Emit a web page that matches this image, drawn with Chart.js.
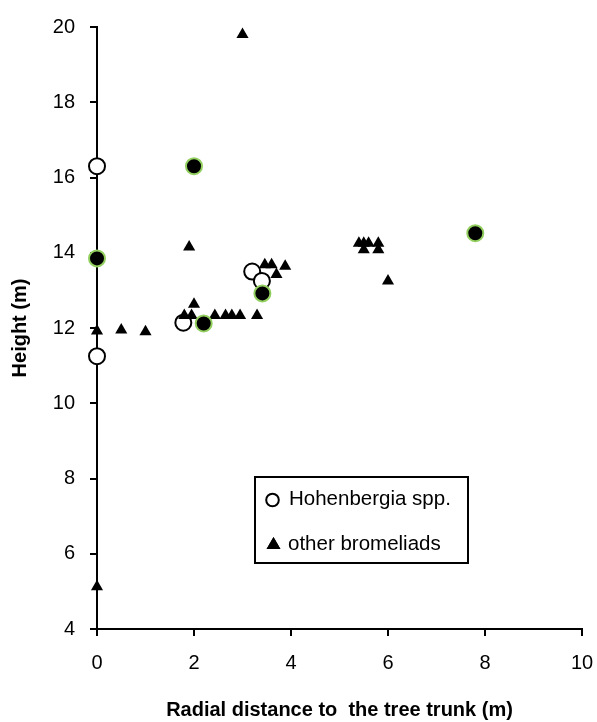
<!DOCTYPE html>
<html>
<head>
<meta charset="utf-8">
<script src="https://cdn.jsdelivr.net/npm/chart.js@4.4.1/dist/chart.umd.min.js"></script>
<style>
  html, body { margin: 0; padding: 0; background: #ffffff; }
  #wrap { width: 597px; height: 722px; position: relative; }
</style>
</head>
<body>
<div id="wrap"><canvas id="c" width="597" height="722"></canvas></div>
<script>
// ---- data ----
const hohenOpenX = [0, 0, 1.78, 3.2, 3.4];
const hohenOpenY = [16.3, 11.25, 12.14, 13.5, 13.25];

const hohenFilledX = [0, 2.0, 2.2, 3.41, 7.8];
const hohenFilledY = [13.85, 16.3, 12.12, 12.92, 14.52];

const otherX = [0, 0.5, 1.0, 0, 3.0, 1.9, 2.0, 1.8, 1.95, 2.43, 2.65, 2.78, 2.95, 3.3, 3.46, 3.6, 3.7, 3.88, 5.4, 5.5, 5.6, 5.8, 5.5, 5.8, 6.0];
const otherY = [11.92, 11.95, 11.9, 5.12, 19.8, 14.15, 12.63, 12.33, 12.33, 12.33, 12.33, 12.33, 12.33, 12.33, 13.68, 13.68, 13.42, 13.64, 14.25, 14.25, 14.25, 14.25, 14.08, 14.08, 13.25];

const xTicks = [0, 2, 4, 6, 8, 10];
const yTicks = [4, 6, 8, 10, 12, 14, 16, 18, 20];

const seriesLabels = ['Hohenbergia spp.', 'other bromeliads'];
const xTitle = 'Radial distance to  the tree trunk (m)';
const yTitle = 'Height (m)';

const toPts = (xs, ys) => xs.map((x, i) => ({ x: x, y: ys[i] }));

const FONT = "'Liberation Sans', Arial, sans-serif";

const legendBox = {
  id: 'legendBox',
  afterDraw(chart) {
    const ctx = chart.ctx;
    const L = 255, T = 477, W = 213, H = 86;
    ctx.save();
    ctx.lineWidth = 2;
    ctx.strokeStyle = '#000';
    ctx.strokeRect(L, T, W, H);
    // circle marker
    ctx.fillStyle = '#fff';
    ctx.beginPath(); ctx.arc(272.5, 500, 6.3, 0, Math.PI * 2); ctx.fill();
    ctx.lineWidth = 2; ctx.strokeStyle = '#000'; ctx.stroke();
    // triangle marker
    ctx.fillStyle = '#000';
    Chart.helpers.drawPoint(ctx, { pointStyle: 'triangle', radius: 8, borderWidth: 0 }, 273.5, 545);
    ctx.fill();
    ctx.fillStyle = '#000';
    ctx.font = "20.5px " + FONT;
    ctx.textBaseline = 'alphabetic';
    ctx.textAlign = 'left';
    ctx.fillText(seriesLabels[0], 289, 505);
    ctx.fillText(seriesLabels[1], 288, 550);
    ctx.restore();
  }
};

new Chart(document.getElementById('c'), {
  type: 'scatter',
  data: {
    datasets: [
      {
        label: 'Hohenbergia spp. (filled)',
        data: toPts(hohenFilledX, hohenFilledY),
        pointStyle: 'circle',
        pointRadius: 8,
        pointBackgroundColor: '#000000',
        pointBorderColor: '#92cf5f',
        pointBorderWidth: 2
      },
      {
        label: seriesLabels[1],
        data: toPts(otherX, otherY),
        pointStyle: 'triangle',
        pointRadius: 7,
        pointBackgroundColor: '#000000',
        pointBorderColor: '#000000',
        pointBorderWidth: 0
      },
      {
        label: seriesLabels[0],
        data: toPts(hohenOpenX, hohenOpenY),
        pointStyle: 'circle',
        pointRadius: 8,
        pointBackgroundColor: '#ffffff',
        pointBorderColor: '#000000',
        pointBorderWidth: 2
      }
    ]
  },
  options: {
    responsive: false,
    animation: false,
    devicePixelRatio: 1,
    datasets: { scatter: { clip: false } },
    layout: { padding: { top: 25, right: 15, left: 0, bottom: 0 } },
    plugins: { legend: { display: false }, tooltip: { enabled: false } },
    scales: {
      x: {
        type: 'linear', min: 0, max: 10,
        afterBuildTicks(s) { s.ticks = xTicks.map(v => ({ value: v })); },
        afterFit(s) { s.height = 93; s.paddingLeft = 0; s.paddingRight = 0; },
        grid: { display: true, drawOnChartArea: false, drawTicks: true, tickLength: 7, color: '#000', lineWidth: 2 },
        border: { display: true, color: '#000', width: 2 },
        ticks: { color: '#000', font: { family: FONT, size: 20 }, padding: 15, maxRotation: 0 },
        title: { display: true, text: xTitle, color: '#000', font: { family: FONT, size: 20, weight: 'bold' }, padding: { top: 10, bottom: 0 } }
      },
      y: {
        type: 'linear', min: 4, max: 20,
        afterBuildTicks(s) { s.ticks = yTicks.map(v => ({ value: v })); },
        afterFit(s) { s.width = 97; },
        grid: { display: true, drawOnChartArea: false, drawTicks: true, tickLength: 7, color: '#000', lineWidth: 2 },
        border: { display: true, color: '#000', width: 2 },
        ticks: { color: '#000', font: { family: FONT, size: 20 }, padding: 15 },
        title: { display: true, text: yTitle, color: '#000', font: { family: FONT, size: 20, weight: 'bold' }, padding: { top: 8, bottom: 0 } }
      }
    }
  },
  plugins: [legendBox]
});
</script>
</body>
</html>
